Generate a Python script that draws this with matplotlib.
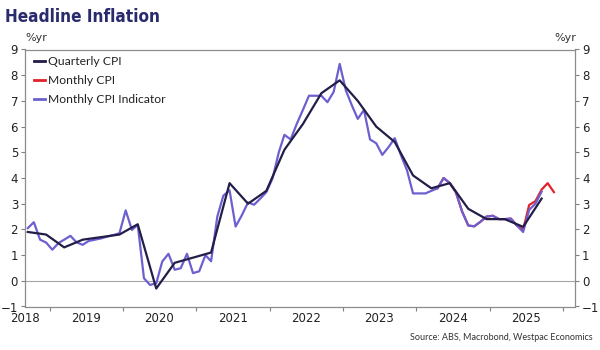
import matplotlib
matplotlib.use("Agg")
import matplotlib.pyplot as plt
import matplotlib.dates as mdates
from matplotlib import font_manager as fm
import pandas as pd

# ---------------- data ----------------
# Quarterly CPI (%yr), quarters ending Sep 2018 .. Sep 2025
quarterly_start = "2018-09-01"
quarterly_cpi = [1.9, 1.8, 1.3, 1.6, 1.7, 1.8, 2.2, -0.3, 0.7, 0.9, 1.1, 3.8,
                 3.0, 3.5, 5.1, 6.1, 7.3, 7.8, 7.0, 6.0, 5.4, 4.1, 3.6, 3.8,
                 2.8, 2.4, 2.4, 2.1, 3.2]

# Monthly CPI Indicator (%yr), Sep 2018 .. Sep 2025
indicator_start = "2018-09-01"
indicator_cpi = [2.05, 2.28, 1.6, 1.49,                                  # 2018 Sep-Dec
                 1.21, 1.47, 1.6, 1.75, 1.5, 1.4, 1.55, 1.6, 1.65, 1.72, 1.78, 1.85,  # 2019
                 2.74, 1.98, 2.18, 0.1, -0.16, -0.1, 0.75, 1.05, 0.43, 0.49, 1.05, 0.3,  # 2020
                 0.37, 1.0, 0.76, 2.5, 3.31, 3.52, 2.11, 2.55, 3.05, 2.96, 3.2, 3.45,  # 2021
                 3.99, 5.0, 5.68, 5.5, 6.1, 6.65, 7.2, 7.2, 7.2, 6.95, 7.35, 8.44,     # 2022
                 7.4, 6.8, 6.3, 6.65, 5.5, 5.35, 4.9, 5.2, 5.55, 4.9, 4.3, 3.4,       # 2023
                 3.4, 3.4, 3.5, 3.6, 4.0, 3.8, 3.45, 2.7, 2.15, 2.12, 2.3, 2.5,       # 2024
                 2.53, 2.4, 2.4, 2.42, 2.15, 1.9, 2.76, 3.0, 3.47]                     # 2025

# Monthly CPI (%yr), Apr 2024 .. Nov 2025
monthly_start = "2024-04-01"
monthly_cpi = [3.6, 4.0, 3.8, 3.45, 2.7, 2.15, 2.12, 2.3, 2.5,
               2.53, 2.4, 2.4, 2.42, 2.15, 2.0, 2.95, 3.1, 3.55, 3.8, 3.45]

year_labels = ["2018", "2019", "2020", "2021", "2022", "2023", "2024", "2025"]
y_ticks = [-1, 0, 1, 2, 3, 4, 5, 6, 7, 8, 9]

series_names = ["Quarterly CPI", "Monthly CPI", "Monthly CPI Indicator"]
c_quarterly = "#221e48"
c_monthly = "#e4222b"
c_indicator = "#6c5fd0"


def month_dates(start, n, step=1):
    return pd.date_range(start, periods=n, freq=f"{step}MS") + pd.Timedelta(days=14)


q_dates = month_dates(quarterly_start, len(quarterly_cpi), 3)
i_dates = month_dates(indicator_start, len(indicator_cpi))
m_dates = month_dates(monthly_start, len(monthly_cpi))


# pick a condensed bold face for the title if one is installed
def title_font():
    cands = [dict(family="Liberation Sans Narrow", stretch="normal", size=13.5),
             dict(family="DejaVu Sans", stretch="condensed", size=12.3)]
    for c in cands:
        fp = fm.FontProperties(family=c["family"], stretch=c["stretch"], weight="bold")
        try:
            path = fm.findfont(fp, fallback_to_default=False)
        except Exception:
            continue
        low = path.lower()
        if "narrow" in low or "condensed" in low:
            return fp, c["size"]
    return fm.FontProperties(family="Roboto", weight="bold"), 11.5


# ---------------- figure ----------------
fig = plt.figure(figsize=(6, 3.5), dpi=100)
ax = fig.add_axes([25 / 600, 1 - 306.5 / 350, 550 / 600, 257 / 350])

ax.axhline(0, color="#a6a6a6", lw=0.8, zorder=1)

l_m, = ax.plot(m_dates, monthly_cpi, color=c_monthly, lw=1.6, zorder=2)
l_i, = ax.plot(i_dates, indicator_cpi, color=c_indicator, lw=1.6, zorder=3)
l_q, = ax.plot(q_dates, quarterly_cpi, color=c_quarterly, lw=1.6, zorder=4)

x_left = pd.Timestamp("2018-09-01")
x_right = pd.Timestamp("2026-02-28")
ax.set_xlim(x_left, x_right)
ax.set_ylim(-1, 9)

# x axis: year boundary ticks, labels centred in each year
ax.xaxis.set_major_locator(mdates.YearLocator())
ax.xaxis.set_major_formatter(plt.NullFormatter())
label_pos = [x_left] + [pd.Timestamp(f"{y}-07-01") for y in year_labels[1:]]
ax.set_xticks(label_pos, minor=True)
ax.set_xticklabels(year_labels, minor=True)
ax.tick_params(axis="x", which="major", length=3, width=0.8, color="#808080", direction="out")
ax.tick_params(axis="x", which="minor", length=0, pad=4, labelsize=8.5, labelcolor="#222222")

# y axis both sides
ax.set_yticks(y_ticks)
ax.tick_params(axis="y", which="both", length=3, width=0.8, color="#808080", direction="out",
               labelsize=8.5, labelcolor="#222222", left=True, right=True,
               labelleft=True, labelright=True, pad=2)
for lab in ax.get_xticklabels(minor=True) + ax.get_yticklabels():
    lab.set_family("DejaVu Sans")

for s in ax.spines.values():
    s.set_color("#8c8c8c")
    s.set_linewidth(0.9)

leg = ax.legend([l_q, l_m, l_i], series_names, loc="upper left",
                bbox_to_anchor=(0.0164, 0.975), frameon=False, borderaxespad=0,
                borderpad=0, handlelength=0.9, handletextpad=0.25,
                labelspacing=0.68, prop={"family": "Lato", "size": 8.7})
for t in leg.get_texts():
    t.set_color("#222222")
for h in leg.legend_handles:
    h.set_linewidth(2.0)

# texts
tfp, tsize = title_font()
tfp.set_size(tsize)
fig.text(5 / 600, 1 - 17 / 350, "Headline Inflation", ha="left", va="center",
         fontproperties=tfp, color="#2a2b6c")
fig.text(25 / 600, 1 - 38 / 350, "%yr", ha="left", va="center", size=8,
         family="DejaVu Sans", color="#333333")
fig.text(576 / 600, 1 - 38 / 350, "%yr", ha="right", va="center", size=8,
         family="DejaVu Sans", color="#333333")
fig.text(593 / 600, 1 - 337 / 350, "Source: ABS, Macrobond, Westpac Economics",
         ha="right", va="center", size=6.5, family="Lato", color="#333333")

fig.savefig("out.png", dpi=100)
